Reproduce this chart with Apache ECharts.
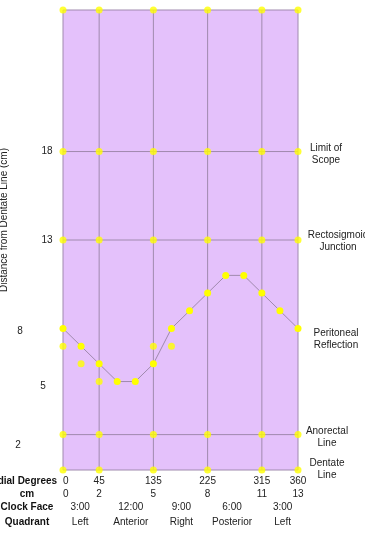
<html>
<head>
<meta charset="utf-8">
<script src="https://cdn.jsdelivr.net/npm/echarts@6/dist/echarts.min.js"></script>
<style>
html, body { margin: 0; padding: 0; background: #fff; }
#main { width: 365px; height: 535px; }
</style>
</head>
<body>
<div id="main"></div>
<script>
// axis positions (cm around the circumference) and matching degrees
var cmTicks = [0, 2, 5, 8, 11, 13];
var degreeTicks = [0, 45, 135, 225, 315, 360];
// horizontal landmark lines (cm from dentate line)
var levelLines = [0, 2, 13, 18, 26];
var yTickLabels = [18, 13, 8, 5, 2];
// clock face / quadrant rows sit between the cm ticks
var clockPos = [0.95, 3.75, 6.55, 9.35, 12.15];
var clockLabels = ['3:00', '12:00', '9:00', '6:00', '3:00'];
var quadrantLabels = ['Left', 'Anterior', 'Right', 'Posterior', 'Left'];
var landmarkLabels = ['Limit of\nScope', 'Rectosigmoid\nJunction', 'Peritoneal\nReflection', 'Anorectal\nLine', 'Dentate\nLine'];
var landmarkLevels = [18, 13, 8, 2, 0];
// peritoneal reflection curve
var reflectionX = [0, 1, 2, 3, 4, 5, 6, 7, 8, 9, 10, 11, 12, 13];
var reflectionY = [8, 7, 6, 5, 5, 6, 8, 9, 10, 11, 11, 10, 9, 8];
// loose points
var extraX = [0, 1, 2, 5, 6];
var extraY = [7, 6, 5, 7, 7];

var FONT = 'Liberation Sans, Arial, sans-serif';
var lineColor = '#a08aae';
var dotColor = '#ffff00';

var chart = echarts.init(document.getElementById('main'));

function nearest(arr, v) {
    var best = 0;
    for (var i = 1; i < arr.length; i++) {
        if (Math.abs(arr[i] - v) < Math.abs(arr[best] - v)) best = i;
    }
    return best;
}

function bottomAxis(name, offset, values, fmt, minAlign) {
    return {
        type: 'value', min: 0, max: 13, position: 'bottom', offset: offset,
        axisLine: { show: false, onZero: false },
        axisTick: { show: false },
        splitLine: { show: false },
        axisLabel: {
            customValues: values, formatter: fmt, margin: 0, alignMinLabel: minAlign,
            verticalAlign: 'middle', fontSize: 10, color: '#222', fontFamily: FONT
        },
        name: name, nameLocation: 'start', nameGap: 36,
        nameTextStyle: {
            align: 'center', verticalAlign: 'middle', fontWeight: 'bold',
            fontSize: 10, color: '#111', fontFamily: FONT
        }
    };
}

var series = [];
cmTicks.forEach(function (x) {
    series.push({
        type: 'line', data: [[x, 0], [x, 26]], symbol: 'none', clip: false, silent: true,
        lineStyle: { color: lineColor, width: 1 }
    });
});
levelLines.forEach(function (y) {
    series.push({
        type: 'line', data: [[0, y], [13, y]], symbol: 'none', clip: false, silent: true,
        lineStyle: { color: lineColor, width: 1 }
    });
});
series.push({
    type: 'line', clip: false, z: 4,
    data: reflectionX.map(function (x, i) { return [x, reflectionY[i]]; }),
    symbol: 'circle', symbolSize: 7, showAllSymbol: true,
    itemStyle: { color: dotColor, borderWidth: 0 },
    lineStyle: { color: lineColor, width: 1 }
});
var gridPts = [];
cmTicks.forEach(function (x) {
    levelLines.forEach(function (y) { gridPts.push([x, y]); });
});
series.push({
    type: 'scatter', clip: false, z: 5, symbolSize: 7,
    data: gridPts.concat(extraX.map(function (x, i) { return [x, extraY[i]]; })),
    itemStyle: { color: dotColor }
});

chart.setOption({
    animation: false,
    grid: {
        left: 63, right: 67, top: 10, bottom: 65,
        outerBoundsMode: 'none', containLabel: false,
        show: true, backgroundColor: '#e4c1fb', borderWidth: 0
    },
    xAxis: [
        bottomAxis('Radial Degrees', 11, cmTicks, function (v) { return degreeTicks[nearest(cmTicks, v)]; }, 'left'),
        bottomAxis('cm', 24, cmTicks, function (v) { return cmTicks[nearest(cmTicks, v)]; }, 'left'),
        bottomAxis('Clock Face', 37, clockPos, function (v) { return clockLabels[nearest(clockPos, v)]; }),
        bottomAxis('Quadrant', 52, clockPos, function (v) { return quadrantLabels[nearest(clockPos, v)]; })
    ],
    yAxis: {
        type: 'value', min: 0, max: 26,
        axisLine: { show: false }, axisTick: { show: false },
        axisLabel: { show: false }, splitLine: { show: false }
    },
    series: series
});

// text placed next to the plot using the chart's own scales
var tickDx = [-16, -16, -43, -20, -45];
var tickDy = [0, 0, 3, 5, 11];
var landDx = [28, 40, 38, 29, 29];
var landDy = [3, 1, 11, 3, -1];
var gfx = [];
yTickLabels.forEach(function (v, i) {
    var p = chart.convertToPixel({ gridIndex: 0 }, [0, v]);
    gfx.push({
        type: 'text', x: p[0] + tickDx[i], y: p[1] + tickDy[i],
        style: { text: String(v), font: '10px ' + FONT, fill: '#222', align: 'center', verticalAlign: 'middle' }
    });
});
landmarkLabels.forEach(function (t, i) {
    var p = chart.convertToPixel({ gridIndex: 0 }, [13, landmarkLevels[i]]);
    gfx.push({
        type: 'text', x: p[0] + landDx[i], y: p[1] + landDy[i],
        style: { text: t, font: '10px ' + FONT, fill: '#222', align: 'center', verticalAlign: 'middle', lineHeight: 12 }
    });
});
gfx.push({
    type: 'text', x: 4, y: 220, rotation: Math.PI / 2,
    style: { text: 'Distance from Dentate Line (cm)', font: '10px ' + FONT, fill: '#222', align: 'center', verticalAlign: 'middle' }
});
chart.setOption({ graphic: gfx });

window.onresize = chart.resize;
</script>
</body>
</html>
